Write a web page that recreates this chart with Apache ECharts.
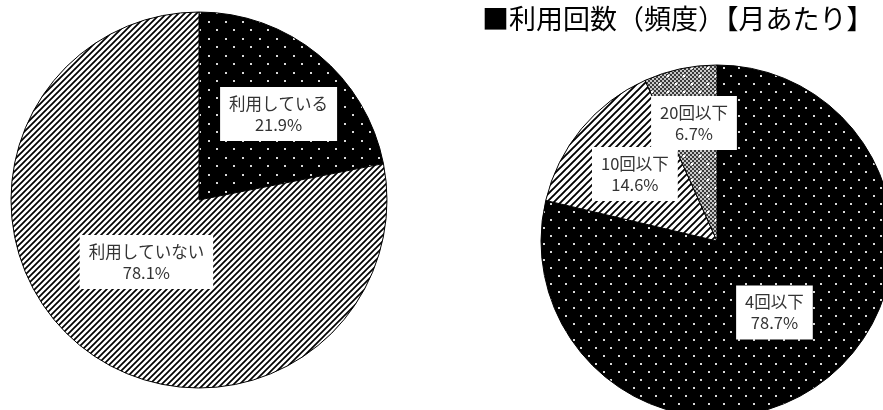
<!DOCTYPE html>
<html><head><meta charset="utf-8">
<script src="https://cdn.jsdelivr.net/npm/echarts@6/dist/echarts.min.js"></script>
<style>html,body{margin:0;padding:0;background:#fff}#c{width:883px;height:410px}</style>
</head><body><div id="c"></div>
<script>
// ---- data ----
const titleText = '■利用回数（頻度）【月あたり】';
const usageCategories = ['利用している', '利用していない'];
const usageValues = [21.9, 78.1];
const freqCategories = ['4回以下', '10回以下', '20回以下'];
const freqValues = [78.7, 14.6, 6.7];

// ---- patterns ----
function makeCanvas(w, h) { const c = document.createElement('canvas'); c.width = w; c.height = h; return c; }
function dotsPattern(w, h, bg, dot, pts, size) {
  const c = makeCanvas(w, h), g = c.getContext('2d');
  g.fillStyle = bg; g.fillRect(0, 0, w, h);
  g.fillStyle = dot;
  pts.forEach(p => g.fillRect(p[0], p[1], size, size));
  return { image: c, repeat: 'repeat' };
}
function stripePattern(n, lw) {
  const c = makeCanvas(n, n), g = c.getContext('2d');
  g.fillStyle = '#fff'; g.fillRect(0, 0, n, n);
  g.strokeStyle = '#000'; g.lineWidth = lw;
  g.beginPath();
  g.moveTo(-1, n + 1); g.lineTo(n + 1, -1);
  g.moveTo(-n / 2 - 1, n / 2 + 1); g.lineTo(n / 2 + 1, -n / 2 - 1);
  g.moveTo(n / 2 - 1, 3 * n / 2 + 1); g.lineTo(3 * n / 2 + 1, n / 2 - 1);
  g.stroke();
  return { image: c, repeat: 'repeat' };
}
function checkerDotsPattern() {
  const w = 16, h = 16;
  const c = makeCanvas(w, h), g = c.getContext('2d');
  for (let y = 0; y < h; y += 2) for (let x = 0; x < w; x += 2) {
    g.fillStyle = ((x + y) / 2) % 2 === 0 ? '#3a3a3a' : '#c8c8c8';
    g.fillRect(x, y, 2, 2);
  }
  g.fillStyle = '#fff';
  g.fillRect(3, 3, 2, 2); g.fillRect(11, 11, 2, 2);
  return { image: c, repeat: 'repeat' };
}

const leftColors = [
  dotsPattern(17, 17, '#000', '#d8d8d8', [[4, 4], [12, 12]], 2),
  stripePattern(6, 1.7)
];
const rightColors = [
  dotsPattern(15, 16, '#000', '#d8d8d8', [[3, 3], [10, 11]], 2),
  stripePattern(7, 1.9),
  checkerDotsPattern()
];

const leftLabelShift = [[18, -11], [9, -13]];
const rightLabelShift = [[1, 0], [-12, -9], [-4, -29]];
const FONT = '"Noto Sans CJK JP", sans-serif';

function pieData(names, vals, colors) {
  return names.map((n, i) => ({ name: n, value: vals[i], itemStyle: { color: colors[i] } }));
}
const labelStyle = {
  show: true, position: 'inside', formatter: '{b}\n{c}%',
  backgroundColor: '#fff', padding: [6, 9], fontSize: 16.5, lineHeight: 21,
  color: '#333', fontFamily: FONT, align: 'center'
};

const chart = echarts.init(document.getElementById('c'), null, { renderer: 'canvas' });
chart.setOption({
  animation: false,
  title: {
    text: titleText, left: 477, top: 0,
    textStyle: { fontSize: 27, fontWeight: 'normal', color: '#000', fontFamily: FONT }
  },
  series: [
    {
      type: 'pie', center: [199, 200], radius: 188, startAngle: 90, clockwise: true,
      avoidLabelOverlap: false, silent: true,
      itemStyle: { borderColor: '#000', borderWidth: 1 },
      label: labelStyle, labelLine: { show: false },
      labelLayout: p => ({ dx: leftLabelShift[p.dataIndex][0], dy: leftLabelShift[p.dataIndex][1] }),
      emphasis: { disabled: true },
      data: pieData(usageCategories, usageValues, leftColors)
    },
    {
      type: 'pie', center: [717, 241], radius: 176, startAngle: 90, clockwise: true,
      avoidLabelOverlap: false, silent: true,
      itemStyle: { borderColor: '#000', borderWidth: 1 },
      label: labelStyle, labelLine: { show: false },
      labelLayout: p => ({ dx: rightLabelShift[p.dataIndex][0], dy: rightLabelShift[p.dataIndex][1] }),
      emphasis: { disabled: true },
      data: pieData(freqCategories, freqValues, rightColors)
    }
  ]
});
</script></body></html>
